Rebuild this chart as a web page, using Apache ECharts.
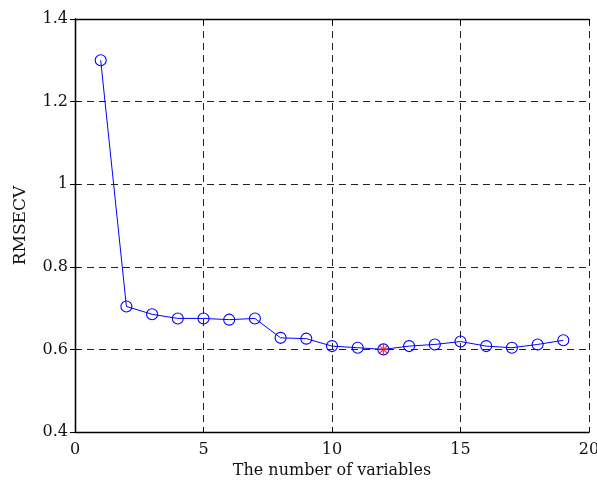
<!DOCTYPE html>
<html>
<head>
<meta charset="utf-8">
<script src="https://cdn.jsdelivr.net/npm/echarts@6/dist/echarts.min.js"></script>
<style>
  html, body { margin: 0; padding: 0; background: #fff; }
  #chart { width: 597px; height: 484px; }
</style>
</head>
<body>
<div id="chart"></div>
<script>
// number of variables and RMSECV values
const nVars = [1, 2, 3, 4, 5, 6, 7, 8, 9, 10, 11, 12, 13, 14, 15, 16, 17, 18, 19]
const rmsecv = [1.30, 0.704, 0.685, 0.675, 0.675, 0.672, 0.675, 0.628, 0.626, 0.608,
  0.604, 0.600, 0.608, 0.612, 0.619, 0.608, 0.604, 0.612, 0.622]
// the optimum (red star)
const bestIndex = 11

const xTicks = [0, 5, 10, 15, 20]
const yTicks = [0.4, 0.6, 0.8, 1, 1.2, 1.4]

const font = 'DejaVu Serif'
const chart = echarts.init(document.getElementById('chart'))

const lineData = nVars.map((n, i) => [n, rmsecv[i]])
const bestData = [[nVars[bestIndex], rmsecv[bestIndex]]]

const starPath = 'path://M10 0 L10 20 M0 10 L20 10 M3 3 L17 17 M17 3 L3 17'

const gridDash = { color: '#222', type: [7, 5], width: 1 }
const boxLine = { show: true, lineStyle: { color: '#000', width: 1.3 } }
const boxTick = { show: true, inside: true, length: 5, lineStyle: { color: '#000' } }

chart.setOption({
  animation: false,
  grid: { left: 75, right: 8, top: 19, bottom: 52, outerBoundsMode: 'none', containLabel: false },
  xAxis: [{
    type: 'value', min: 0, max: 20, interval: 5,
    name: 'The number of variables', nameLocation: 'middle', nameGap: 31,
    nameTextStyle: { fontFamily: font, fontSize: 16, color: '#111' },
    axisLine: boxLine,
    axisTick: boxTick,
    axisLabel: { fontFamily: font, fontSize: 16, color: '#111', margin: 10,
      formatter: v => xTicks.includes(v) ? String(v) : '' },
    splitLine: { show: true, lineStyle: gridDash }
  }, {
    type: 'value', min: 0, max: 20, interval: 5, position: 'top',
    axisLine: boxLine, axisTick: boxTick,
    axisLabel: { show: false }, splitLine: { show: false }
  }],
  yAxis: [{
    type: 'value', min: 0.4, max: 1.4, interval: 0.2,
    name: 'RMSECV', nameLocation: 'middle', nameGap: 46,
    nameTextStyle: { fontFamily: font, fontSize: 17, color: '#111' },
    axisLine: boxLine,
    axisTick: boxTick,
    axisLabel: { fontFamily: font, fontSize: 16, color: '#111', margin: 7,
      formatter: v => {
        const t = yTicks.find(k => Math.abs(k - v) < 1e-6)
        return t === undefined ? '' : String(t)
      } },
    splitLine: { show: true, lineStyle: gridDash }
  }, {
    type: 'value', min: 0.4, max: 1.4, interval: 0.2, position: 'right',
    axisLine: boxLine, axisTick: boxTick,
    axisLabel: { show: false }, splitLine: { show: false }
  }],
  series: [{
    type: 'line',
    data: lineData,
    symbol: 'circle',
    symbolSize: 11,
    showAllSymbol: true,
    lineStyle: { color: '#0000ff', width: 1 },
    itemStyle: { color: 'rgba(255,255,255,0)', borderColor: '#0000ff', borderWidth: 1.1 },
    z: 3
  }, {
    type: 'scatter',
    data: bestData,
    symbol: starPath,
    symbolSize: 11,
    itemStyle: { color: 'none', borderColor: '#ff0000', borderWidth: 1.2 },
    z: 4
  }]
})
</script>
</body>
</html>
